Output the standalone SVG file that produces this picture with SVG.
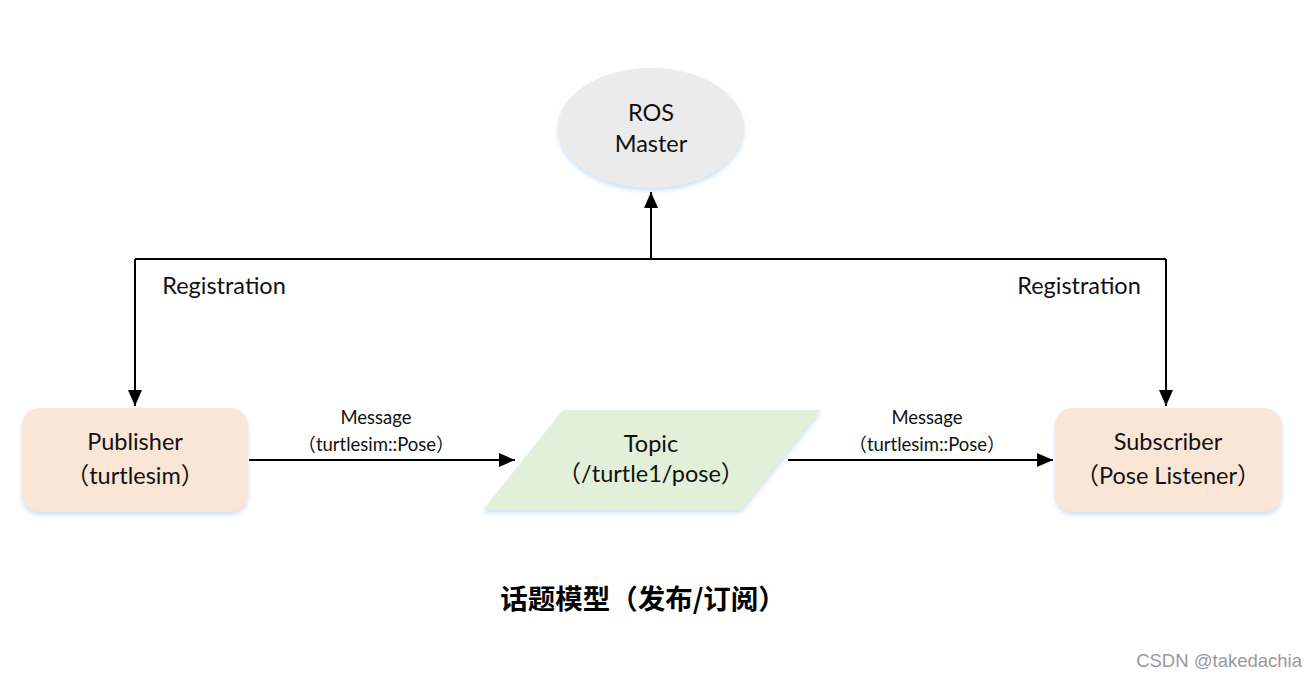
<svg xmlns="http://www.w3.org/2000/svg" width="1316" height="677" viewBox="0 0 1316 677">
<defs>
<style>
.t{font-family:Lato,"Noto Sans CJK SC",sans-serif;fill:#111;text-anchor:middle}
.n{font-size:23.5px}
.m{font-size:18.5px}
.ln{stroke:#000;stroke-width:2;fill:none}
</style>
<marker id="ah2" viewBox="0 0 16 14" refX="16" refY="7" markerWidth="16" markerHeight="14" markerUnits="userSpaceOnUse" orient="auto">
<path d="M0,0 L16,7 L0,14 z" fill="#000"/>
</marker>
<filter id="sh" x="-10%" y="-10%" width="120%" height="130%">
<feDropShadow dx="0" dy="3" stdDeviation="2" flood-color="#9dc3e6" flood-opacity="0.5"/>
</filter>
</defs>
<rect width="1316" height="677" fill="#fff"/>
<g id="connectors">
<path class="ln" d="M651,259 V192" marker-end="url(#ah2)"/>
<path class="ln" d="M135,259 H1166"/>
<path class="ln" d="M135,259 V406" marker-end="url(#ah2)"/>
<path class="ln" d="M1166,259 V406" marker-end="url(#ah2)"/>
<path class="ln" d="M249,460 H515" marker-end="url(#ah2)"/>
<path class="ln" d="M788,460 H1053" marker-end="url(#ah2)"/>
<text class="t n" x="224" y="294">Registration</text>
<text class="t n" x="1079" y="294">Registration</text>
<text class="t m" x="376" y="424">Message</text>
<text class="t m" x="376" y="451">（turtlesim::Pose）</text>
<text class="t m" x="927" y="424">Message</text>
<text class="t m" x="927" y="451">（turtlesim::Pose）</text>
</g>
<g id="master">
<ellipse cx="651" cy="128" rx="93" ry="60" fill="#ebebeb" filter="url(#sh)"/>
<text class="t n" x="651" y="121">ROS</text>
<text class="t n" x="651" y="152">Master</text>
</g>
<g id="publisher">
<rect x="22" y="408" width="226" height="104" rx="18" fill="#fbe5d6" filter="url(#sh)"/>
<text class="t n" x="135" y="450">Publisher</text>
<text class="t n" x="135" y="484">（turtlesim）</text>
</g>
<g id="topic">
<polygon points="563,410 821,410 741,510 483,510" fill="#e2f0d9" filter="url(#sh)"/>
<text class="t n" x="651" y="452">Topic</text>
<text class="t n" x="651" y="482">（/turtle1/pose）</text>
</g>
<g id="subscriber">
<rect x="1055" y="408" width="227" height="104" rx="18" fill="#fbe5d6" filter="url(#sh)"/>
<text class="t n" x="1168" y="450">Subscriber</text>
<text class="t n" x="1168" y="484">（Pose Listener）</text>
</g>
<text x="643" y="609" style="font-family:'Noto Sans CJK SC',sans-serif;font-size:27.5px;font-weight:bold;text-anchor:middle;fill:#000">话题模型（发布/订阅）</text>
<text x="1302" y="667" style="font-family:'Liberation Sans',sans-serif;font-size:18.5px;text-anchor:end;fill:#999">CSDN @takedachia</text>
</svg>
